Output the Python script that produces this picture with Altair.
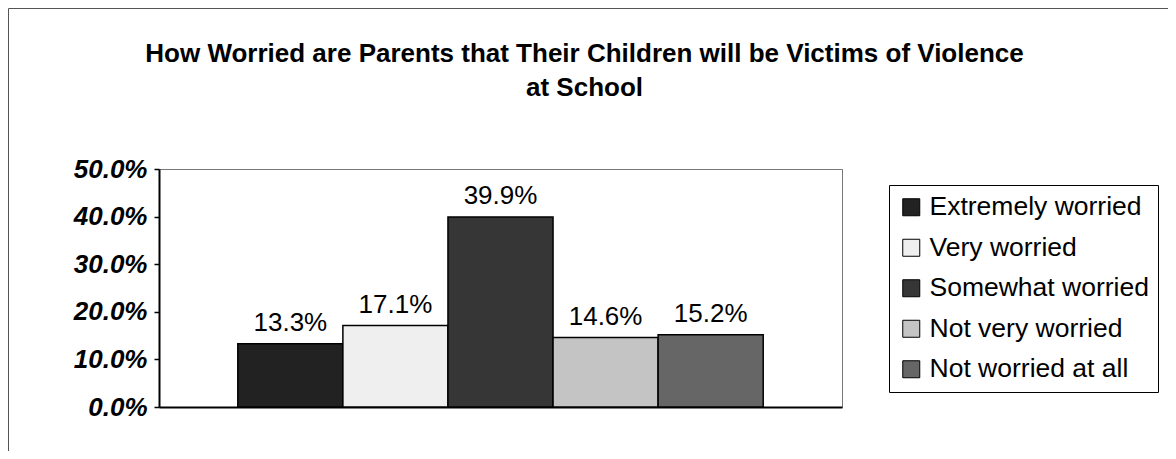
import altair as alt
import pandas as pd

categories = ["Extremely worried", "Very worried", "Somewhat worried",
              "Not very worried", "Not worried at all"]
values = [0.133, 0.171, 0.399, 0.146, 0.152]
labels = ["13.3%", "17.1%", "39.9%", "14.6%", "15.2%"]
fills = ["#222222", "#efefef", "#363636", "#c4c4c4", "#666666"]
y_ticks = [0, 0.1, 0.2, 0.3, 0.4, 0.5]
title_lines = ["How Worried are Parents that Their Children will be Victims of Violence",
               "at School"]

df = pd.DataFrame({"cat": categories, "val": values, "lab": labels})
one = pd.DataFrame({"k": [0]})

W, H = 683, 238
FONT = "Liberation Sans"

base = alt.Chart(df)

x_enc = alt.X("cat:N", sort=categories,
              scale=alt.Scale(paddingInner=0, paddingOuter=0.75),
              axis=alt.Axis(title=None, labels=False, ticks=False,
                            domainColor="black", domainWidth=2))
y_enc = alt.Y("val:Q",
              scale=alt.Scale(domain=[0, 0.5], nice=False, zero=True),
              axis=alt.Axis(title=None, values=y_ticks, format=".1%",
                            labelFont=FONT, labelFontSize=26,
                            labelFontWeight="bold", labelFontStyle="italic",
                            labelColor="black", labelPadding=7,
                            tickSize=5, tickColor="black", tickWidth=1.5,
                            domainColor="black", domainWidth=2, grid=False))

bars = base.mark_bar(stroke="black", strokeWidth=1.5, opacity=1).encode(
    x=x_enc,
    y=y_enc,
    color=alt.Color("cat:N", sort=categories,
                    scale=alt.Scale(domain=categories, range=fills),
                    legend=alt.Legend(title=None, orient="none",
                                      legendX=730, legendY=16,
                                      direction="vertical",
                                      symbolType="square", symbolSize=289,
                                      symbolStrokeColor="black",
                                      symbolStrokeWidth=1, symbolOpacity=1,
                                      labelFont=FONT, labelFontSize=26.5,
                                      labelColor="black", labelLimit=400,
                                      labelOffset=5, rowPadding=13.5,
                                      padding=9, strokeColor="black",
                                      fillColor="white")),
)

text = base.mark_text(font=FONT, fontSize=26, color="black",
                      baseline="alphabetic", dy=-13).encode(
    x=alt.X("cat:N", sort=categories),
    y="val:Q",
    text="lab:N",
)

title = alt.Chart(one).mark_text(
    text=title_lines, font=FONT, fontSize=26, fontWeight="bold",
    lineHeight=34, align="center", baseline="alphabetic", color="black"
).encode(x=alt.value(425.5), y=alt.value(-106.7))

border = alt.Chart(one).mark_rect(
    fill="transparent", stroke="#555555", strokeWidth=1
).encode(x=alt.value(-150.5), y=alt.value(-160.5),
         x2=alt.value(1100), y2=alt.value(400))

chart = alt.layer(border, bars, text, title).properties(
    width=W, height=H,
    autosize=alt.AutoSizeParams(type="none"),
    padding={"left": 151, "top": 161, "right": 326, "bottom": 44},
    background="white",
).configure_view(stroke="#777777", strokeWidth=1)

chart.save("out.html", embed_options={"renderer": "svg", "actions": False})
